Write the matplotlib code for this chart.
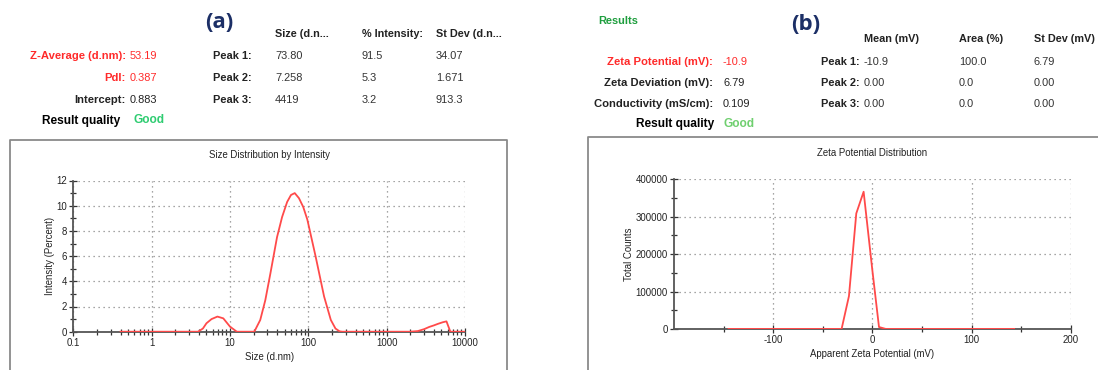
import matplotlib
matplotlib.use("Agg")
import matplotlib.pyplot as plt
from matplotlib.lines import Line2D
from matplotlib.ticker import FixedLocator, FuncFormatter, NullFormatter, LogLocator

plt.rcParams['font.family'] = ['Liberation Sans', 'DejaVu Sans']
plt.rcParams['axes.unicode_minus'] = False

# ---------------- data ----------------
size_nm = [0.4, 3.9, 4.5, 5.0, 5.8, 6.9, 8.2, 10, 12.2, 20.4, 24.3, 28.2, 32.7, 39.8,
           46.2, 53.6, 60, 67, 75.8, 86, 97, 124, 158.7, 193.6, 222, 250, 270,
           2000, 2500, 3000, 3500, 4000, 4500, 5200, 5800, 6500, 10000]
intensity = [0, 0, 0.25, 0.67, 1.0, 1.2, 1.06, 0.4, 0, 0, 0.93, 2.5, 4.6, 7.5,
             9.1, 10.3, 10.85, 11.0, 10.6, 9.9, 8.9, 5.95, 2.8, 0.93, 0.25, 0.03, 0,
             0, 0.05, 0.2, 0.38, 0.5, 0.62, 0.75, 0.82, 0, 0]

zeta_mv = [-145, -31, -23.6, -16.2, -8.8, 0, 6.7, 13.4, 143]
counts = [0, 0, 87700, 309000, 367000, 157000, 5000, 0, 0]

size_xticks = [0.1, 1, 10, 100, 1000, 10000]
size_yticks = [0, 2, 4, 6, 8, 10, 12]
zeta_xticks = [-100, 0, 100, 200]
zeta_xminor = [-150, -50, 50, 150]
zeta_yticks = [0, 100000, 200000, 300000, 400000]

left_rows = [("Z-Average (d.nm):", "53.19", "red"),
             ("PdI:", "0.387", "red"),
             ("Intercept:", "0.883", "black")]
left_peak_header = ["Size (d.n...", "% Intensity:", "St Dev (d.n..."]
left_peaks = [("Peak 1:", "73.80", "91.5", "34.07"),
              ("Peak 2:", "7.258", "5.3", "1.671"),
              ("Peak 3:", "4419", "3.2", "913.3")]

right_rows = [("Zeta Potential (mV):", "-10.9", "red"),
              ("Zeta Deviation (mV):", "6.79", "black"),
              ("Conductivity (mS/cm):", "0.109", "black")]
right_peak_header = ["Mean (mV)", "Area (%)", "St Dev (mV)"]
right_peaks = [("Peak 1:", "-10.9", "100.0", "6.79"),
               ("Peak 2:", "0.00", "0.0", "0.00"),
               ("Peak 3:", "0.00", "0.0", "0.00")]

# ---------------- figure ----------------
W, H = 1098, 370
fig = plt.figure(figsize=(W / 100, H / 100), dpi=100)
fig.patch.set_facecolor('white')

def fx(x):
    return x / W

def fy(y):
    return 1 - y / H

def txt(x, y, s, **kw):
    fig.text(fx(x), fy(y), s, va='center', **kw)

RED = '#ff2a2a'
TXT = '#222222'
NAVY = '#1c2f66'
LBL = 8.1

# ---- header text, left ----
txt(219, 23, "(a)", fontsize=16, fontweight='bold', color=NAVY, ha='center',
    family=['Open Sans', 'DejaVu Sans'])
hx = [275, 362, 436]
for x, s in zip(hx, left_peak_header):
    txt(x, 34, s, fontsize=7.8, fontweight='bold', color=TXT, ha='left')
row_y = [56, 78, 100]
for y, (lab, val, col) in zip(row_y, left_rows):
    c = RED if col == 'red' else TXT
    txt(126, y, lab, fontsize=LBL, fontweight='bold', color=c, ha='right')
    txt(130, y, val, fontsize=7.9, color=c, ha='left')
for y, row in zip(row_y, left_peaks):
    txt(252, y, row[0], fontsize=7.9, fontweight='bold', color=TXT, ha='right')
    for x, s in zip(hx, row[1:]):
        txt(x, y, s, fontsize=7.9, color='#333333', ha='left')
txt(120, 121, "Result quality", fontsize=8.6, fontweight='bold', color='black', ha='right')
txt(133, 120, "Good", fontsize=8.6, fontweight='bold', color='#2ecc71', ha='left')

# ---- header text, right ----
txt(598, 21, "Results", fontsize=7.9, fontweight='bold', color='#1e9e3e', ha='left')
txt(806, 24, "(b)", fontsize=16, fontweight='bold', color=NAVY, ha='center',
    family=['Open Sans', 'DejaVu Sans'])
rhx = [864, 959, 1034]
for x, s in zip(rhx, right_peak_header):
    txt(x, 39, s, fontsize=7.8, fontweight='bold', color=TXT, ha='left')
rrow_y = [62, 83, 104]
for y, (lab, val, col) in zip(rrow_y, right_rows):
    c = RED if col == 'red' else TXT
    txt(713, y, lab, fontsize=LBL, fontweight='bold', color=c, ha='right')
    txt(723, y, val, fontsize=7.9, color=c, ha='left')
for y, row in zip(rrow_y, right_peaks):
    txt(860, y, row[0], fontsize=7.9, fontweight='bold', color=TXT, ha='right')
    for x, s in zip(rhx, row[1:]):
        txt(x, y, s, fontsize=7.9, color='#333333', ha='left')
txt(714, 124, "Result quality", fontsize=8.6, fontweight='bold', color='black', ha='right')
txt(724, 124, "Good", fontsize=8.6, fontweight='bold', color='#6fcf6f', ha='left')

# ---- frames ----
FR = '#8a8a8a'
fig.add_artist(Line2D([fx(10), fx(10), fx(507), fx(507)],
                      [fy(372), fy(140), fy(140), fy(372)],
                      transform=fig.transFigure, color=FR, lw=1.3))
fig.add_artist(Line2D([fx(588), fx(588), fx(1100)],
                      [fy(372), fy(137), fy(137)],
                      transform=fig.transFigure, color=FR, lw=1.3))

TICKFS = 6.9
LINE = '#ff4a4a'

def style_axes(ax):
    for s in ['top', 'right']:
        ax.spines[s].set_visible(False)
    for s in ['left', 'bottom']:
        ax.spines[s].set_color('#555555')
        ax.spines[s].set_linewidth(1.3)
    ax.tick_params(which='major', direction='inout', length=6, width=0.9,
                   color='#333333', labelsize=TICKFS, labelcolor='#222222', pad=1.5)
    ax.tick_params(which='minor', direction='inout', length=5, width=0.9, color='#333333')
    ax.set_facecolor('white')

# ---- left chart ----
ax1 = fig.add_axes([73.4 / W, 1 - 331.7 / H, 391.6 / W, 151.2 / H])
ax1.plot(size_nm, intensity, color=LINE, lw=1.3, zorder=3)
ax1.set_xscale('log')
ax1.set_xlim(0.1, 10000)
ax1.set_ylim(0, 12)
ax1.xaxis.set_major_locator(FixedLocator(size_xticks))
ax1.xaxis.set_major_formatter(FuncFormatter(lambda v, p: '%g' % v))
ax1.xaxis.set_minor_locator(LogLocator(base=10, subs=range(2, 10), numticks=20))
ax1.xaxis.set_minor_formatter(NullFormatter())
ax1.yaxis.set_major_locator(FixedLocator(size_yticks))
ax1.yaxis.set_minor_locator(FixedLocator([1, 3, 5, 7, 9, 11]))
style_axes(ax1)
ax1.grid(True, which='major', linestyle=(0, (1, 3)), color='#888888', lw=0.9)
ax1.set_xlabel("Size (d.nm)", fontsize=TICKFS, color='#222222', labelpad=3)
ax1.set_ylabel("Intensity (Percent)", fontsize=TICKFS, color='#222222', labelpad=1)
ax1.set_title("Size Distribution by Intensity", fontsize=TICKFS, color='#222222', pad=16)

# ---- right chart ----
ax2 = fig.add_axes([674 / W, 1 - 328.9 / H, 396.7 / W, 149.5 / H])
ax2.plot(zeta_mv, counts, color=LINE, lw=1.3, zorder=3)
ax2.set_xlim(-200, 200)
ax2.set_ylim(0, 400000)
ax2.xaxis.set_major_locator(FixedLocator(zeta_xticks))
ax2.xaxis.set_minor_locator(FixedLocator(zeta_xminor))
ax2.yaxis.set_major_locator(FixedLocator(zeta_yticks))
ax2.yaxis.set_minor_locator(FixedLocator([50000, 150000, 250000, 350000]))
ax2.yaxis.set_major_formatter(FuncFormatter(lambda v, p: '%d' % v))
style_axes(ax2)
ax2.grid(True, which='major', linestyle=(0, (1, 3)), color='#888888', lw=0.9)
ax2.set_xlabel("Apparent Zeta Potential (mV)", fontsize=TICKFS, color='#222222', labelpad=3)
ax2.set_ylabel("Total Counts", fontsize=TICKFS, color='#222222', labelpad=1)
ax2.set_title("Zeta Potential Distribution", fontsize=TICKFS, color='#222222', pad=17)

fig.savefig("out.png", dpi=100, facecolor='white')
